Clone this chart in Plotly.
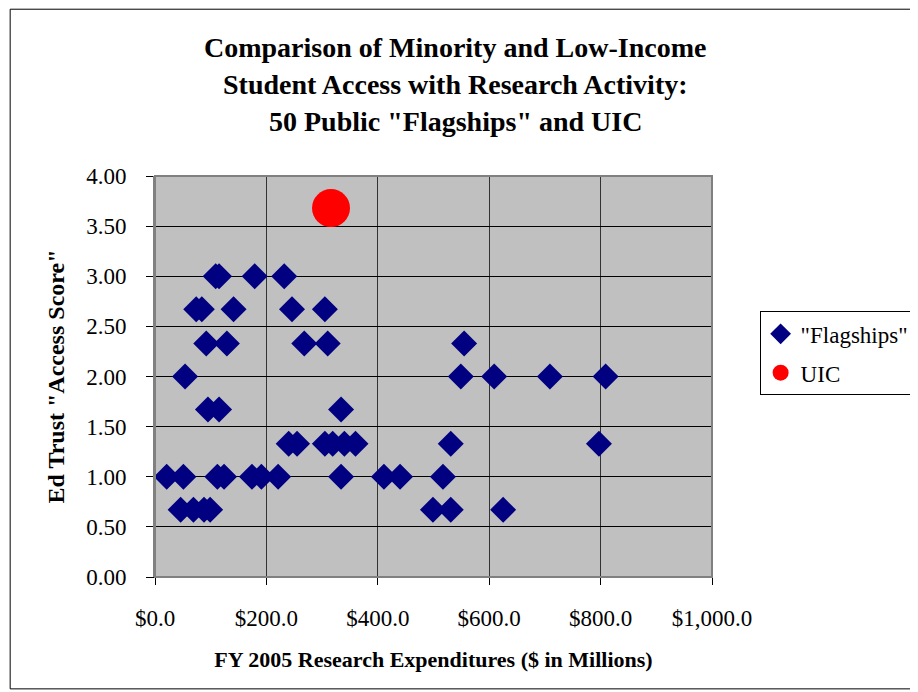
import plotly.graph_objects as go

# data
flagship_spend = [109, 115, 179, 232,
                  74, 84, 141, 246, 305,
                  92, 129, 268, 310, 555,
                  54, 549, 609, 709, 809,
                  95, 115, 334,
                  240, 255, 305, 319, 340, 360, 531, 797,
                  21, 51, 112, 124, 174, 191, 221, 334, 411, 440, 517,
                  46, 69, 88, 99, 499, 531, 625]
flagship_score = [3.00] * 4 + [2.67] * 5 + [2.33] * 5 + [2.00] * 5 + [1.67] * 3 + \
                 [1.33] * 8 + [1.00] * 11 + [0.67] * 7
uic_spend = [316]
uic_score = [3.68]

title_lines = ["Comparison of Minority and Low-Income",
               "Student Access with Research Activity:",
               '50 Public "Flagships" and UIC']

W, H = 918, 692
OFF = 8  # page body margin: figure is drawn 8px right and down
L, R, T, B = 154.5 - OFF, 716 - OFF, 175.5 - OFF, 577 - OFF
pw, ph = R - L, B - T


def px(x):  # page pixel -> paper x
    return (x - OFF - L) / pw


def py(y):  # page pixel -> paper y
    return (B - (y - OFF)) / ph


serif = "Liberation Serif"

fig = go.Figure()
fig.add_trace(go.Scatter(
    x=flagship_spend, y=flagship_score, mode="markers", name='"Flagships"',
    legendgroup="a",
    marker=dict(symbol="diamond", size=20, color="#000080", line=dict(width=0))
))
fig.add_trace(go.Scatter(
    x=uic_spend, y=uic_score, mode="markers", name="UIC",
    legendgroup="b",
    marker=dict(symbol="circle", size=38, color="#FF0000", line=dict(width=0))
))

annotations = []
for i, line in enumerate(title_lines):
    annotations.append(dict(
        text="<b>%s</b>" % line, xref="paper", yref="paper",
        x=px(457), y=py(47 + 37 * i), showarrow=False,
        xanchor="center", yanchor="middle",
        font=dict(family=serif, size=28, color="black")
    ))

fig.update_layout(
    width=W, height=H,
    margin=dict(l=L, r=W - R, t=T, b=H - B),
    paper_bgcolor="white",
    plot_bgcolor="#C0C0C0",
    font=dict(family=serif, size=20, color="black"),
    showlegend=True,
    legend=dict(
        x=px(764), y=py(311), xanchor="left", yanchor="top",
        bgcolor="white", bordercolor="black", borderwidth=1,
        font=dict(family=serif, size=23, color="black"),
        traceorder="grouped", tracegroupgap=6,
        itemwidth=30
    ),
    annotations=annotations,
    xaxis=dict(
        range=[0, 1000], dtick=200, tick0=0,
        tickprefix="$", tickformat=",.1f",
        showgrid=True, gridcolor="#333333", gridwidth=1,
        zeroline=False,
        showline=True, linecolor="black", linewidth=1,
        ticks="outside", ticklen=7, tickcolor="black",
        ticklabelstandoff=13,
        tickfont=dict(family=serif, size=23),
        title=dict(text="<b>FY 2005 Research Expenditures ($ in Millions)</b>",
                   font=dict(family=serif, size=22), standoff=22)
    ),
    yaxis=dict(
        range=[0, 4], dtick=0.5, tick0=0, tickformat=".2f",
        showgrid=True, gridcolor="black", gridwidth=1,
        zeroline=False,
        showline=True, linecolor="#808080", linewidth=2,
        ticks="outside", ticklen=7, tickcolor="black",
        ticklabelstandoff=15,
        tickfont=dict(family=serif, size=23),
        title=dict(text='<b>Ed Trust "Access Score"</b>',
                   font=dict(family=serif, size=24), standoff=15)
    ),
    shapes=[
        dict(type="rect", xref="paper", yref="paper",
             x0=0, x1=1, y0=0, y1=1,
             line=dict(color="#808080", width=2), layer="above"),
        dict(type="rect", xref="paper", yref="paper",
             x0=px(8.5), x1=px(940), y0=py(689), y1=py(8.5),
             line=dict(color="black", width=1)),
    ]
)

fig.write_html("out.html")
